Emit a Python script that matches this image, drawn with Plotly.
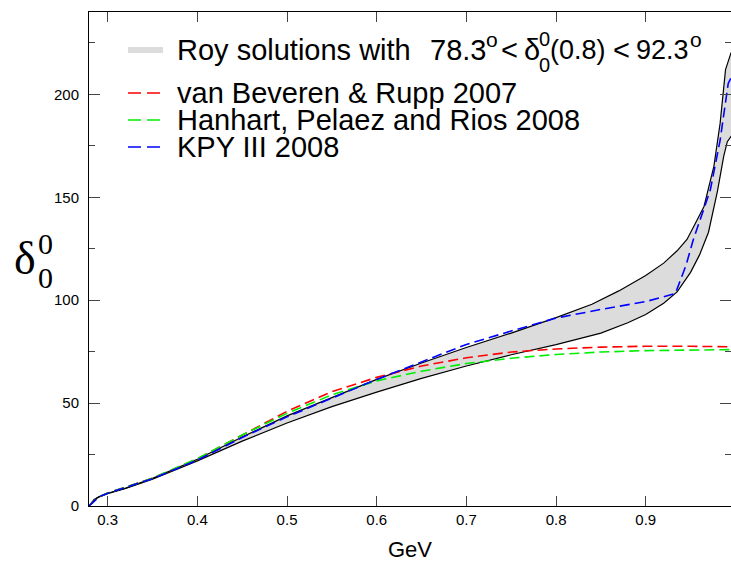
import plotly.graph_objects as go

# ---------------- data ----------------
x_lower = [0.2792, 0.285, 0.29, 0.30, 0.32, 0.35, 0.40, 0.45, 0.50, 0.55, 0.60, 0.65, 0.70,
           0.75, 0.80, 0.85, 0.88, 0.90, 0.92, 0.935, 0.95, 0.96, 0.97, 0.98, 0.987, 0.991, 0.995, 1.0]
y_lower = [0.0, 3.0, 4.3, 6.0, 8.5, 13.0, 21.9, 31.5, 40.3, 48.3, 55.3, 62.0, 68.0,
           73.5, 78.4, 84.0, 89.0, 93.0, 98.5, 104.0, 113.5, 122.0, 133.0, 153.0, 170.0, 177.0, 179.5, 182.0]

x_upper = [0.2792, 0.285, 0.29, 0.30, 0.32, 0.35, 0.40, 0.45, 0.50, 0.55, 0.60, 0.65, 0.70,
           0.75, 0.80, 0.84, 0.87, 0.90, 0.92, 0.935, 0.946, 0.955, 0.965, 0.976, 0.983, 0.989, 0.995, 1.0]
y_upper = [0.0, 3.2, 4.5, 6.2, 8.7, 13.4, 22.7, 33.5, 43.8, 52.8, 61.5, 69.5, 77.0,
           84.0, 91.5, 98.0, 104.5, 112.0, 118.0, 124.0, 129.5, 137.0, 145.5, 165.0, 186.0, 212.0, 220.0, 224.0]

x_vbr = [0.2792, 0.29, 0.30, 0.35, 0.40, 0.45, 0.50, 0.55, 0.60, 0.65, 0.70, 0.75, 0.80,
         0.85, 0.90, 0.95, 1.0]
y_vbr = [0.0, 4.4, 6.3, 13.5, 22.9, 34.5, 46.0, 55.5, 62.5, 68.0, 72.0, 74.8, 76.3,
         77.2, 77.6, 77.6, 77.3]

x_hpr = [0.2792, 0.29, 0.30, 0.35, 0.40, 0.45, 0.50, 0.55, 0.60, 0.65, 0.70, 0.75, 0.80,
         0.85, 0.90, 0.95, 1.0]
y_hpr = [0.0, 4.4, 6.3, 13.5, 23.0, 34.5, 45.0, 54.0, 60.8, 65.5, 69.2, 71.8, 73.6,
         74.8, 75.5, 75.9, 76.0]

x_kpy = [0.2792, 0.29, 0.30, 0.35, 0.40, 0.45, 0.50, 0.55, 0.60, 0.65, 0.70, 0.75, 0.80,
         0.85, 0.90, 0.933, 0.945, 0.953, 0.962, 0.972, 0.983, 0.992, 1.0]
y_kpy = [0.0, 4.4, 6.2, 13.3, 22.3, 33.3, 43.3, 52.5, 61.5, 70.0, 78.5, 85.0, 91.3,
         95.5, 99.3, 103.2, 117.0, 129.3, 141.0, 153.5, 177.8, 205.3, 212.0]

x_ticks = [0.3, 0.4, 0.5, 0.6, 0.7, 0.8, 0.9]
x_ticklabels = ["0.3", "0.4", "0.5", "0.6", "0.7", "0.8", "0.9"]
y_ticks = [0, 50, 100, 150, 200]
y_ticklabels = ["0", "50", "100", "150", "200"]
y_minor = [25, 75, 125, 175, 225]

legend_labels = ["van Beveren & Rupp 2007", "Hanhart, Pelaez and Rios 2008", "KPY III 2008"]
legend_colors = ["#ff0000", "#00ee00", "#0000ff"]

# ---------------- layout geometry ----------------
W, H = 731, 564
ML, MR, MT, MB = 89, 0, 12, 58
PW, PH = W - ML - MR, H - MT - MB


def px(xp):
    return (xp - ML) / PW


def py(yp):
    return (H - MB - yp) / PH


fig = go.Figure()

# band (Roy solutions)
fig.add_trace(go.Scatter(
    x=x_lower + x_upper[::-1], y=y_lower + y_upper[::-1],
    fill="toself", fillcolor="#dcdcdc", line=dict(width=0),
    mode="lines", hoverinfo="skip", showlegend=False))
fig.add_trace(go.Scatter(x=x_lower, y=y_lower, mode="lines",
                         line=dict(color="black", width=1.2), showlegend=False))
fig.add_trace(go.Scatter(x=x_upper, y=y_upper, mode="lines",
                         line=dict(color="black", width=1.2), showlegend=False))

dash = "10px,5px"
for xs, ys, c in [(x_vbr, y_vbr, legend_colors[0]),
                  (x_hpr, y_hpr, legend_colors[1]),
                  (x_kpy, y_kpy, legend_colors[2])]:
    fig.add_trace(go.Scatter(x=xs, y=ys, mode="lines",
                             line=dict(color=c, width=1.6, dash=dash), showlegend=False))

font_sans = "Liberation Sans, Arial, sans-serif"
font_serif = "Liberation Serif, Times New Roman, serif"

annotations = []
shapes = []


def txt(text, xp, yp, size, anchor="left", family=font_sans):
    annotations.append(dict(text=text, x=px(xp), y=py(yp), xref="paper", yref="paper",
                            xanchor=anchor, yanchor="middle", showarrow=False, borderpad=0,
                            font=dict(family=family, size=size, color="black")))


# legend: row 1
LEG_X0, LEG_X1 = 128, 163
TXT_X = 176
LFS = 29
row1_y = 50
shapes.append(dict(type="line", xref="paper", yref="paper",
                   x0=px(LEG_X0), x1=px(LEG_X1), y0=py(row1_y), y1=py(row1_y),
                   line=dict(color="#dcdcdc", width=6)))
txt("Roy solutions with", TXT_X, row1_y, LFS)
txt("78.3", 429, row1_y, LFS)
txt("o", 485, row1_y - 10, 21)
txt("<", 500, row1_y, LFS)
txt("δ", 523, row1_y, LFS)
txt("0", 538, row1_y - 11, 20)
txt("0", 538, row1_y + 15, 20)
txt("(0.8)", 549, row1_y, 27)
txt("<", 612, row1_y, LFS)
txt("92.3", 635, row1_y, 27)
txt("o", 689, row1_y - 10, 21)

row_ys = [93, 120, 147]
for lab, col, ry in zip(legend_labels, legend_colors, row_ys):
    shapes.append(dict(type="line", xref="paper", yref="paper",
                       x0=px(LEG_X0), x1=px(LEG_X1 - 3), y0=py(ry), y1=py(ry),
                       line=dict(color=col, width=1.6, dash="13px,6px")))
    txt(lab, TXT_X, ry, LFS)

# y-axis title: delta_0^0 stacked
txt("δ", 37, 258, 46, anchor="right", family=font_serif)
txt("0", 37, 243, 30, family=font_serif)
txt("0", 37, 277, 30, family=font_serif)

fig.update_layout(
    width=W, height=H,
    margin=dict(l=ML, r=MR, t=MT, b=MB, pad=0),
    paper_bgcolor="white", plot_bgcolor="white",
    showlegend=False,
    annotations=annotations, shapes=shapes,
    xaxis=dict(range=[0.27915, 0.9951], tickvals=x_ticks, ticktext=x_ticklabels,
               ticks="inside", ticklen=10, tickcolor="#444", tickwidth=1,
               showline=True, linecolor="black", linewidth=1, mirror="ticks",
               showgrid=False, zeroline=False,
               tickfont=dict(family=font_sans, size=15, color="black"),
               title=dict(text="GeV", font=dict(family=font_sans, size=22, color="black"),
                          standoff=14)),
    yaxis=dict(range=[0, 240], tickvals=y_ticks, ticktext=y_ticklabels,
               ticks="inside", ticklen=11, tickcolor="#444", tickwidth=1,
               minor=dict(tickvals=y_minor, ticks="inside", ticklen=6, tickcolor="#444"),
               showline=True, linecolor="black", linewidth=1, mirror="ticks",
               showgrid=False, zeroline=False, ticklabelstandoff=6,
               tickfont=dict(family=font_sans, size=15, color="black")),
)

fig.write_html("out.html")
